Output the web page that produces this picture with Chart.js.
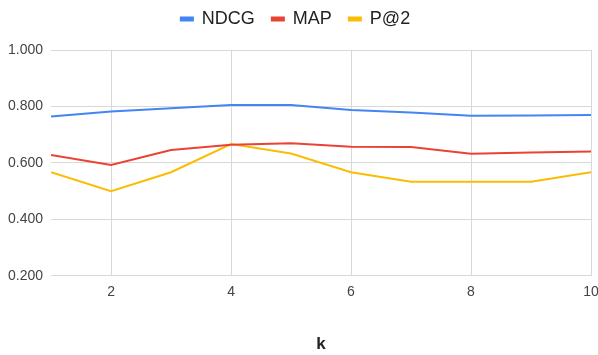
<!DOCTYPE html>
<html>
<head>
<meta charset="utf-8">
<script src="https://cdn.jsdelivr.net/npm/chart.js@4"></script>
<style>
  html, body { margin: 0; padding: 0; background: #fff; }
  #wrap { width: 598px; height: 355px; }
</style>
</head>
<body>
<div id="wrap"><canvas id="c"></canvas></div>
<script>
// Retrieval quality at cut-off k
const kValues = [1, 2, 3, 4, 5, 6, 7, 8, 9, 10];
const ndcg = [0.764, 0.782, 0.794, 0.805, 0.805, 0.787, 0.779, 0.767, 0.768, 0.770];
const map  = [0.628, 0.593, 0.646, 0.664, 0.670, 0.657, 0.656, 0.632, 0.637, 0.640];
const p2   = [0.567, 0.500, 0.567, 0.667, 0.633, 0.567, 0.533, 0.533, 0.533, 0.567];
const xTicks = [2, 4, 6, 8, 10];
const yTicks = [0.2, 0.4, 0.6, 0.8, 1.0];

const toPoints = ys => kValues.map((k, i) => ({ x: k, y: ys[i] }));
const gridColor = '#d9d9d9';
const font = '"Liberation Sans", Arial, sans-serif';

// extra room between the legend and the plot
const legendGap = {
  id: 'legendGap',
  beforeInit(chart) {
    const fit = chart.legend.fit;
    chart.legend.fit = function () {
      fit.call(this);
      this.height += 12;
    };
  }
};

new Chart(document.getElementById('c'), {
  type: 'line',
  plugins: [legendGap],
  data: {
    datasets: [
      { label: 'NDCG', data: toPoints(ndcg), borderColor: '#4285f4', backgroundColor: '#4285f4' },
      { label: 'MAP',  data: toPoints(map),  borderColor: '#ea4335', backgroundColor: '#ea4335' },
      { label: 'P@2',  data: toPoints(p2),   borderColor: '#fbbc04', backgroundColor: '#fbbc04' }
    ]
  },
  options: {
    responsive: true,
    maintainAspectRatio: false,
    animation: false,
    elements: {
      line: { borderWidth: 2, tension: 0 },
      point: { radius: 0, hoverRadius: 0 }
    },
    layout: { padding: { left: 0, right: 7, top: -7, bottom: 0 } },
    plugins: {
      tooltip: { enabled: false },
      legend: {
        position: 'top',
        labels: {
          boxWidth: 12,
          boxHeight: 3,
          padding: 17,
          color: '#222',
          font: { family: font, size: 18 }
        }
      }
    },
    scales: {
      x: {
        type: 'linear',
        min: 1,
        max: 10,
        afterBuildTicks: s => { s.ticks = xTicks.map(v => ({ value: v })); },
        // let the last label run to the canvas edge instead of shrinking the plot
        afterFit: s => { s.paddingRight = 0; },
        grid: { color: gridColor, drawTicks: false },
        border: { display: false },
        ticks: { color: '#444', padding: 8, font: { family: font, size: 14 } },
        title: {
          display: true,
          text: 'k',
          color: '#222',
          padding: { top: 26, bottom: 0 },
          font: { family: font, size: 17, weight: 'bold' }
        }
      },
      y: {
        min: 0.2,
        max: 1.0,
        afterBuildTicks: s => { s.ticks = yTicks.map(v => ({ value: v })); },
        grid: { color: gridColor, drawTicks: false },
        border: { display: false },
        ticks: {
          color: '#444',
          padding: 8,
          font: { family: font, size: 14 },
          callback: v => Number(v).toFixed(3)
        }
      }
    }
  }
});
</script>
</body>
</html>
